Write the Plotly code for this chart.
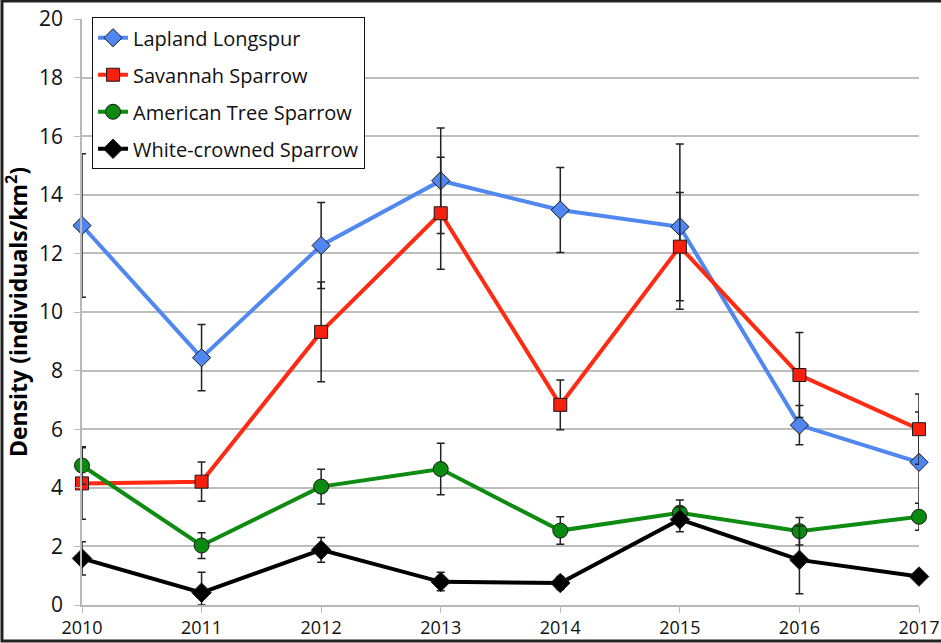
import plotly.graph_objects as go

years = [2010, 2011, 2012, 2013, 2014, 2015, 2016, 2017]
year_labels = ["2010", "2011", "2012", "2013", "2014", "2015", "2016", "2017"]

lapland = [12.95, 8.44, 12.27, 14.48, 13.48, 12.91, 6.14, 4.87]
lapland_err = [2.45, 1.13, 1.47, 1.80, 1.45, 2.82, 0.67, 1.72]

savannah = [4.15, 4.21, 9.32, 13.37, 6.83, 12.23, 7.85, 6.00]
savannah_err = [1.22, 0.67, 1.70, 1.91, 0.85, 1.85, 1.45, 1.20]

tree = [4.76, 2.03, 4.04, 4.64, 2.54, 3.15, 2.52, 3.01]
tree_err = [0.64, 0.44, 0.59, 0.88, 0.47, 0.43, 0.47, 0.46]

whitecrowned = [1.59, 0.42, 1.88, 0.79, 0.75, 2.92, 1.54, 0.97]
whitecrowned_err_plus = [0.57, 0.70, 0.42, 0.33, 0.22, 0.42, 1.16, 0.15]
whitecrowned_err_minus = [0.57, 0.42, 0.42, 0.30, 0.22, 0.42, 1.16, 0.15]

y_ticks = [0, 2, 4, 6, 8, 10, 12, 14, 16, 18, 20]

FONT = "Open Sans"

series = [
    ("Lapland Longspur", lapland, lapland_err, lapland_err, "#5088F0", "#4F86F2", "diamond", 14),
    ("Savannah Sparrow", savannah, savannah_err, savannah_err, "#FF2A12", "#F5200E", "square", 13),
    ("American Tree Sparrow", tree, tree_err, tree_err, "#0E8C12", "#0A8A0E", "circle", 15),
    ("White-crowned Sparrow", whitecrowned, whitecrowned_err_plus, whitecrowned_err_minus, "#000000", "#000000", "diamond", 15),
]

fig = go.Figure()
for i, (name, vals, ep, em, lc, mc, sym, sz) in enumerate(series):
    fig.add_trace(go.Scatter(
        x=years, y=vals, name=name, mode="lines+markers",
        line=dict(color=lc, width=4),
        marker=dict(symbol=sym, size=sz, color=mc, line=dict(color="#1a1a1a", width=1)),
        error_y=dict(type="data", array=ep, arrayminus=em, symmetric=False,
                     color="#222222", thickness=1.5, width=4),
        cliponaxis=False, legendgroup=f"g{i}",
    ))

fig.update_layout(
    width=941, height=643,
    margin=dict(l=82, r=22, t=19, b=38, autoexpand=False),
    paper_bgcolor="white", plot_bgcolor="white",
    font=dict(family=FONT, color="#111111", size=18),
    showlegend=True,
    legend=dict(
        x=0.012, y=1.003, xanchor="left", yanchor="top",
        bgcolor="white", bordercolor="#111111", borderwidth=1,
        font=dict(family=FONT, size=20, color="#111111"),
        tracegroupgap=8, itemwidth=30,
    ),
    xaxis=dict(
        range=[2010, 2017], tickvals=years, ticktext=year_labels,
        showgrid=False, zeroline=False, automargin=False,
        showline=True, linecolor="#b8b8b8", linewidth=1.5,
        ticks="outside", ticklen=6, tickcolor="#b8b8b8", ticklabelstandoff=0,
        tickfont=dict(family=FONT, size=18, color="#111111"),
    ),
    yaxis=dict(
        range=[0, 20], tickvals=y_ticks, ticktext=[str(v) for v in y_ticks],
        showgrid=True, gridcolor="#bdbdbd", gridwidth=1.5, zeroline=False, automargin=False,
        showline=True, linecolor="#b8b8b8", linewidth=1.5,
        ticks="outside", ticklen=6, tickcolor="#b8b8b8", ticklabelstandoff=7,
        tickfont=dict(family=FONT, size=21, color="#111111"),
        title=dict(text="<b>Density (individuals/km<sup>2</sup>)</b>",
                   font=dict(family=FONT, size=23, color="#000000"), standoff=5),
    ),
    shapes=[dict(type="rect", xref="paper", yref="paper",
                 x0=-0.0956, x1=1.05, y0=-0.0614, y1=1.0307,
                 line=dict(color="#222222", width=3), layer="above")],
)

fig.write_html("out.html",
               config={"displayModeBar": False},
               post_script="document.body.style.margin='0';document.body.style.overflow='hidden';")
